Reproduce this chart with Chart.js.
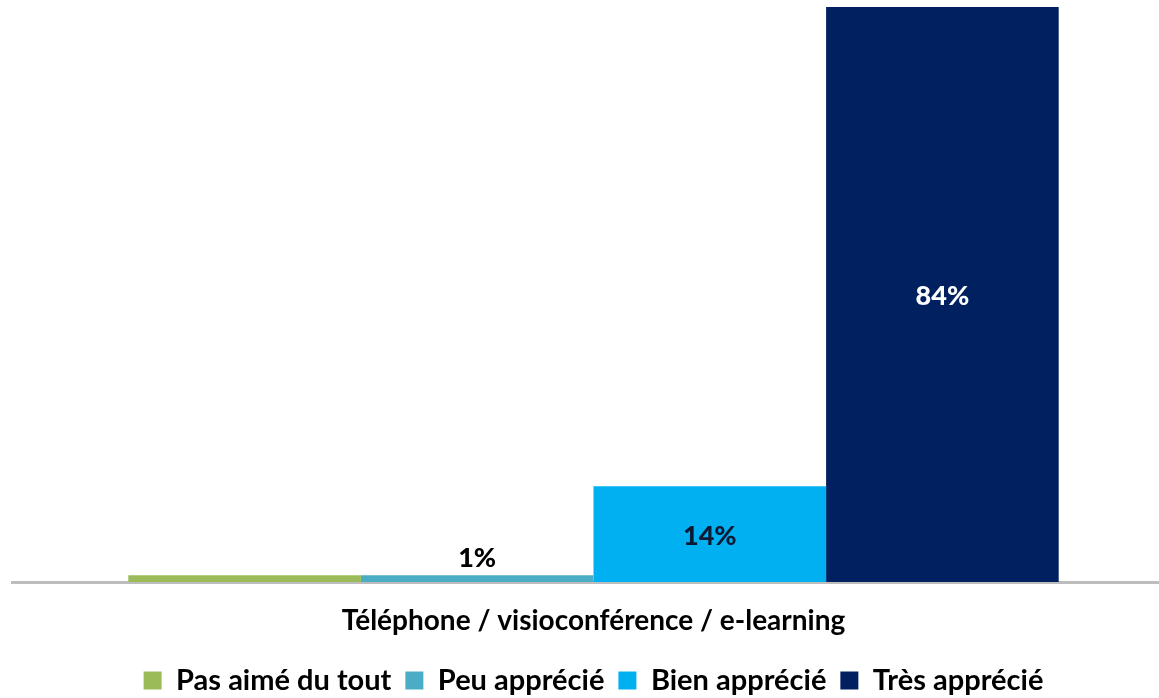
<!DOCTYPE html>
<html>
<head>
<meta charset="utf-8">
<script src="https://cdn.jsdelivr.net/npm/chart.js@4"></script>
<style>
  html, body { margin: 0; padding: 0; background: #fff; overflow: hidden; }
  .chart { width: 1175px; height: 698px; }
</style>
</head>
<body>
<div class="chart"><canvas id="bar-chart"></canvas></div>
<script>
const categories = ['Téléphone / visioconférence / e-learning'];
const seriesNames = ['Pas aimé du tout', 'Peu apprécié', 'Bien apprécié', 'Très apprécié'];
const seriesValues = [[1], [1], [14], [84]];
const seriesLabels = ['', '1%', '14%', '84%'];
const seriesColors = ['#9BBB59', '#4BACC6', '#00B0F0', '#002060'];
const labelColors = ['#000000', '#000000', '#0d1a35', '#ffffff'];

const fontFamily = 'Lato, "Open Sans", sans-serif';

// draws the value labels: inside the bar when there is room, above it otherwise
const valueLabels = {
  id: 'valueLabels',
  afterDatasetsDraw(chart) {
    const ctx = chart.ctx;
    ctx.save();
    ctx.font = `900 27px ${fontFamily}`;
    ctx.textAlign = 'center';
    ctx.textBaseline = 'middle';
    chart.data.datasets.forEach((dataset, i) => {
      const text = seriesLabels[i];
      if (!text) return;
      chart.getDatasetMeta(i).data.forEach((bar) => {
        const height = bar.base - bar.y;
        let y = bar.y + height / 2;
        if (height < 30) y = bar.y - 19;
        ctx.fillStyle = labelColors[i];
        ctx.fillText(text, bar.x, y + 2);
      });
    });
    ctx.restore();
  },
};

const datasets = seriesNames.map((name, i) => ({
  label: name,
  data: seriesValues[i],
  backgroundColor: seriesColors[i],
  categoryPercentage: 0.8,
  barPercentage: 1.0,
}));

const ctx = document.getElementById('bar-chart').getContext('2d');
new Chart(ctx, {
  type: 'bar',
  data: { labels: categories, datasets },
  options: {
    responsive: true,
    maintainAspectRatio: false,
    animation: false,
    layout: { padding: { left: 12, right: 0, top: 7, bottom: -7 } },
    plugins: {
      tooltip: { enabled: false },
      legend: {
        position: 'bottom',
        labels: {
          boxWidth: 18,
          boxHeight: 18,
          padding: 14,
          color: '#000',
          font: { family: fontFamily, size: 29, weight: 'bold' },
        },
      },
    },
    scales: {
      x: {
        grid: { display: false },
        border: { display: true, color: '#bdbdbd', width: 3 },
        ticks: {
          color: '#000',
          padding: 17,
          font: { family: fontFamily, size: 28, weight: 'bold', lineHeight: 1.0 },
        },
      },
      y: {
        display: false,
        min: 0,
        max: 84,
      },
    },
  },
  plugins: [valueLabels],
});
</script>
</body>
</html>
